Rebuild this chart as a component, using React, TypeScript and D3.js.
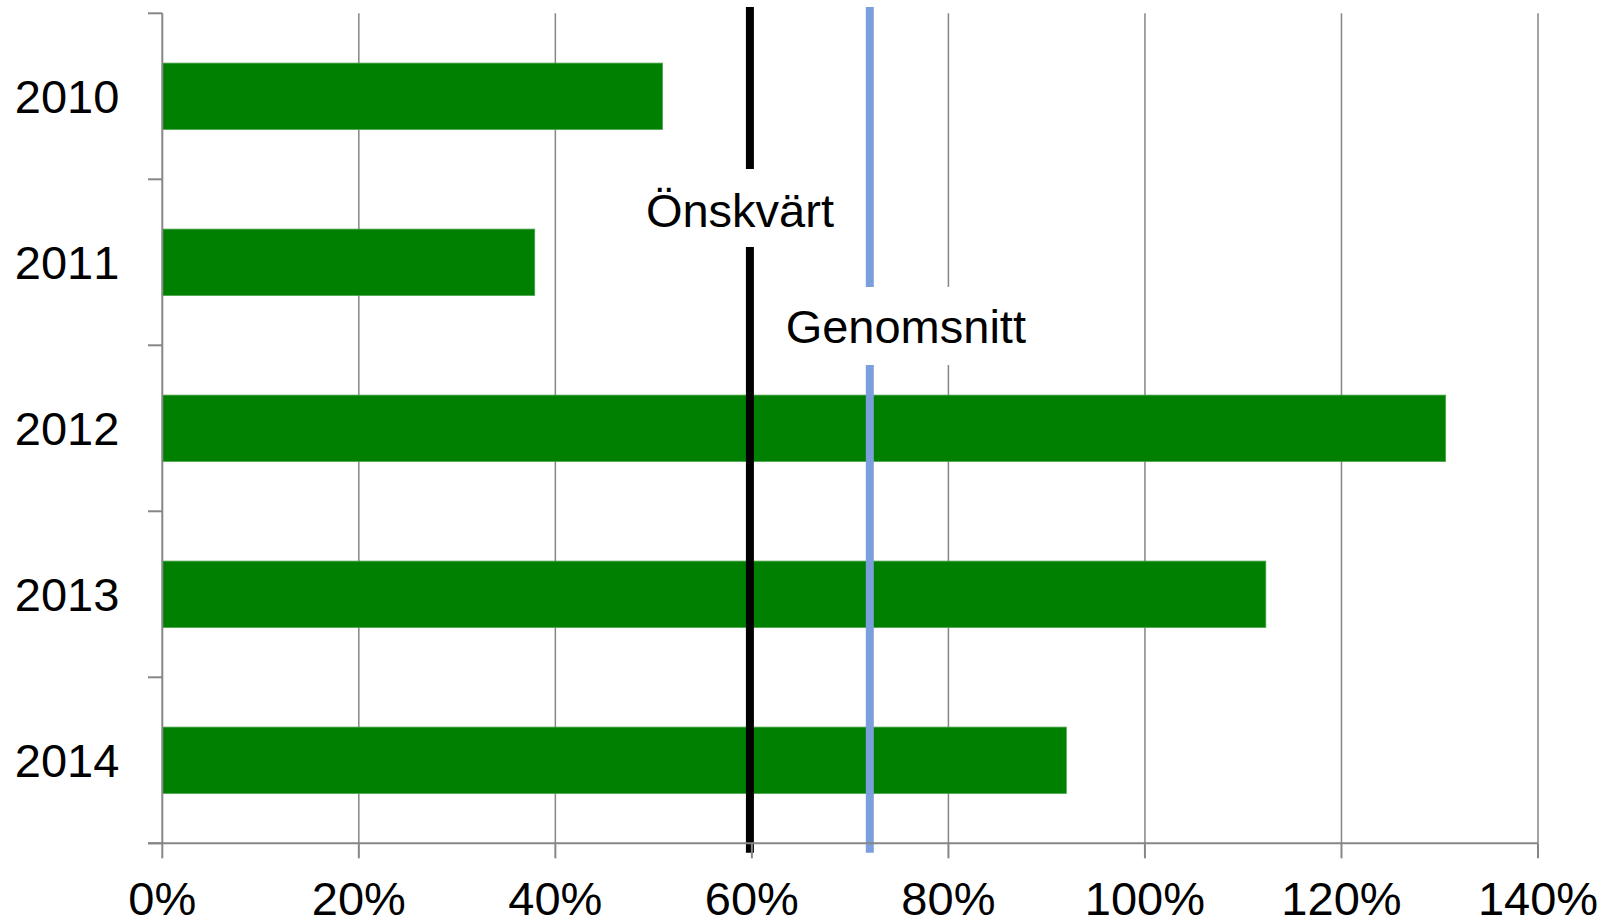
import React from 'react';
import * as d3 from 'd3';

// chart data
const years = ['2010', '2011', '2012', '2013', '2014'];
const values = [50.9, 37.9, 130.6, 112.3, 92.0];
const xTicks = [0, 20, 40, 60, 80, 100, 120, 140];
const targetValue = 59.8; // Önskvärt
const averageValue = 72.0; // Genomsnitt
const targetLabel = 'Önskvärt';
const averageLabel = 'Genomsnitt';

const width = 1615;
const height = 923;
const margin = { top: 13.3, right: 77, bottom: 79.7, left: 162.3 };
const font = '"Liberation Sans", Arial, sans-serif';
const gridColor = '#868686';
const textStyle: React.CSSProperties = { fontKerning: 'none' };

export default function App() {
  const innerW = width - margin.left - margin.right;
  const innerH = height - margin.top - margin.bottom;

  const x = d3.scaleLinear().domain([0, 140]).range([0, innerW]);
  const y = d3.scaleBand<string>().domain(years).range([0, innerH]).paddingInner(0.6).paddingOuter(0.3);
  const band = d3.scaleBand<string>().domain(years).range([0, innerH]);

  const xt = x(targetValue);
  const xa = x(averageValue);

  return (
    <div style={{ position: 'absolute', left: 0, top: 0 }}>
      <svg width={width} height={height} style={{ display: 'block', background: '#fff' }}>
        <g transform={`translate(${margin.left},${margin.top})`}>
          {/* gridlines */}
          {xTicks.slice(1).map(t => (
            <line key={`g${t}`} x1={x(t)} x2={x(t)} y1={0} y2={innerH} stroke={gridColor} strokeWidth={1.5} />
          ))}

          {/* bars */}
          {years.map((yr, i) => (
            <rect key={yr} x={0} y={y(yr)} width={x(values[i])} height={y.bandwidth()} fill="#008000" stroke="#4aa34a" strokeWidth={0.8} />
          ))}

          {/* reference lines */}
          <line x1={xt} x2={xt} y1={-6.3} y2={innerH + 9.5} stroke="#000" strokeWidth={8} />
          <line x1={xa} x2={xa} y1={-6.3} y2={innerH + 9.5} stroke="#7b9fdc" strokeWidth={8} />

          {/* label boxes */}
          <rect x={xt - 112} y={155.7} width={202} height={78} fill="#fff" />
          <text x={xt - 10} y={213.7} textAnchor="middle" fontFamily={font} fontSize={47} fill="#000" style={textStyle}>{targetLabel}</text>

          <rect x={xa - 92} y={273.7} width={262} height={78} fill="#fff" />
          <text x={xa + 36} y={329.7} textAnchor="middle" fontFamily={font} fontSize={47} fill="#000" style={textStyle}>{averageLabel}</text>

          {/* y axis */}
          <line x1={0} x2={0} y1={0} y2={innerH} stroke={gridColor} strokeWidth={2} />
          {d3.range(years.length + 1).map(i => {
            const yy = i < years.length ? (band(years[i]) as number) : innerH;
            return <line key={`yt${i}`} x1={-14.3} x2={0} y1={yy} y2={yy} stroke={gridColor} strokeWidth={2} />;
          })}
          {years.map(yr => (
            <text key={`yl${yr}`} x={-43} y={(band(yr) as number) + band.bandwidth() / 2} dy="0.36em" textAnchor="end" fontFamily={font} fontSize={47} fill="#000" style={textStyle}>
              {yr}
            </text>
          ))}

          {/* x axis */}
          <line x1={-14.3} x2={innerW} y1={innerH} y2={innerH} stroke={gridColor} strokeWidth={2} />
          {xTicks.map(t => (
            <line key={`xt${t}`} x1={x(t)} x2={x(t)} y1={innerH} y2={innerH + 15} stroke={gridColor} strokeWidth={2} />
          ))}
          {xTicks.map(t => (
            <text key={`xl${t}`} x={x(t)} y={innerH + 72} textAnchor="middle" fontFamily={font} fontSize={47} fill="#000" style={textStyle}>
              {`${t}%`}
            </text>
          ))}
        </g>
      </svg>
    </div>
  );
}
